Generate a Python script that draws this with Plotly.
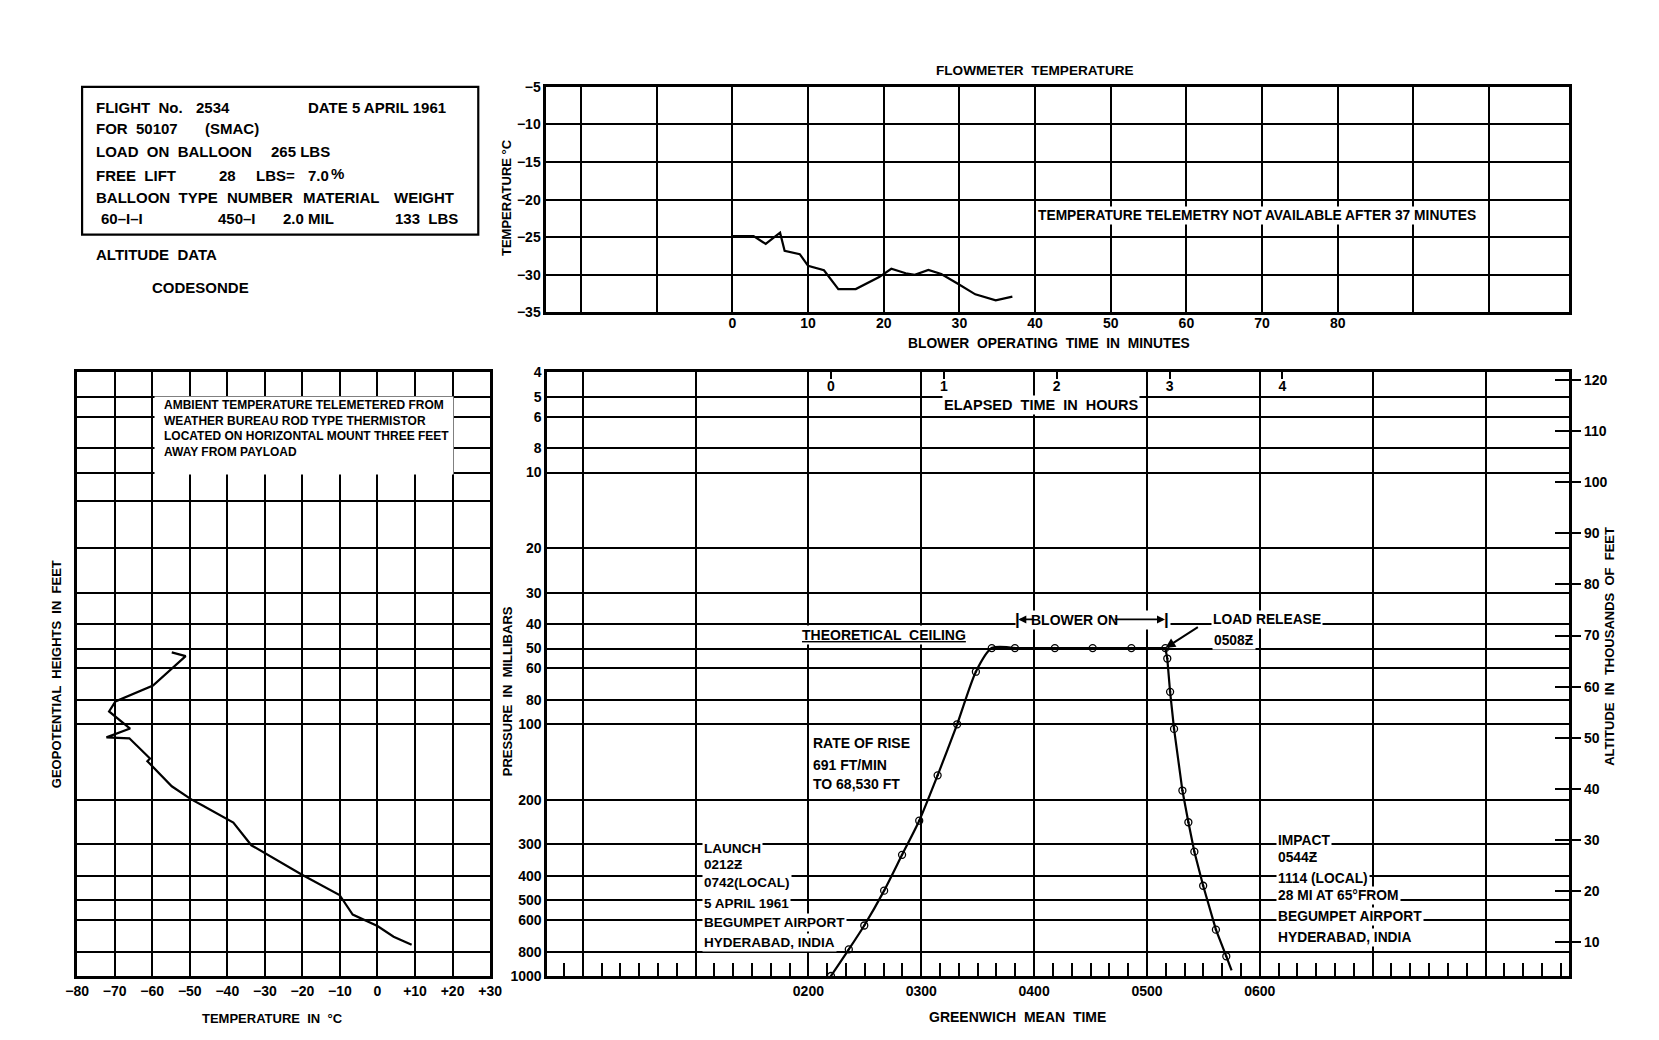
import math
import plotly.graph_objects as go

W, H = 1659, 1040

# ---------------- data ----------------
# Flowmeter temperature vs blower operating time
flow_minutes = [0, 2.8, 4.4, 6.3, 6.9, 8.9, 10.0, 12.1, 14.0, 16.3, 19.4, 21.0,
                22.9, 24.1, 25.9, 27.6, 29.8, 32.1, 34.8, 37.0]
flow_temp = [-24.85, -24.85, -25.9, -24.4, -26.8, -27.25, -28.8, -29.4, -31.9,
             -31.9, -30.3, -29.2, -29.8, -30.0, -29.35, -29.9, -31.2, -32.6,
             -33.4, -32.9]
flow_grid = list(range(-20, 101, 10))
flow_labels = [str(v) if 0 <= v <= 80 else '' for v in flow_grid]
flow_temp_ticks = [-35, -30, -25, -20, -15, -10, -5]

# Ambient temperature profile (temperature vs pressure level)
profile_temp = [-54.8, -51.1, -59.8, -69.8, -71.5, -65.9, -72.2, -66.1, -60.6,
                -61.3, -54.8, -49.6, -46.7, -38.4, -33.6, -20.1, -10.1, -6.6,
                0.0, 4.3, 9.1]
profile_pressure = [51.8, 53.6, 70.1, 81.1, 88.9, 104, 112.7, 113.7, 136.8,
                    140.1, 176.3, 198.8, 209.7, 245.6, 302.5, 396, 476.6, 570,
                    633, 698, 750.6]
profile_temp_ticks = list(range(-80, 31, 10))
profile_temp_labels = ['\u221280', '\u221270', '\u221260', '\u221250', '\u221240',
                       '\u221230', '\u221220', '\u221210', '0', '+10', '+20', '+30']
profile_grid_pressure = [4, 5, 6, 8, 10, 13, 20, 30, 40, 50, 60, 80, 100, 200,
                         300, 400, 500, 600, 800, 1000]

# Flight profile (GMT hours vs pressure)
pressure_ticks = [4, 5, 6, 8, 10, 20, 30, 40, 50, 60, 80, 100, 200, 300, 400,
                  500, 600, 800, 1000]
gmt_hours = list(range(0, 9))
gmt_labels = ['', '', '0200', '0300', '0400', '0500', '0600', '', '']
launch_gmt = 2.2
elapsed_ticks = [0, 1, 2, 3, 4]
altitude_ticks = list(range(10, 121, 10))
blower_on_gmt = 3.85
blower_off_gmt = 5.17
blower_label_p = 38.3

ascent_gmt = [2.2, 2.358, 2.495, 2.671, 2.830, 2.982, 3.145, 3.318, 3.484, 3.625]
ascent_p = [1000, 784, 630, 458, 330, 241.6, 159.5, 100, 61.8, 49.8]
float_gmt = [3.625, 3.830, 4.184, 4.519, 4.862, 5.163]
float_p = [49.8, 49.8, 49.8, 49.8, 49.8, 49.8]
descent_gmt = [5.163, 5.180, 5.205, 5.240, 5.314, 5.367, 5.420, 5.498, 5.611, 5.703]
descent_p = [49.8, 54.8, 74.3, 104.3, 183.3, 245, 320.6, 438, 654.6, 835]
descent_end_gmt = 5.75
descent_end_p = 950

# ---------------- helpers ----------------
def px(x):
    return x / W


def py(y):
    return 1 - y / H


FONT = 'Liberation Sans, Arial, sans-serif'
BLACK = 'black'

fig = go.Figure()

fig.add_trace(go.Scatter(x=flow_minutes, y=flow_temp, mode='lines',
                         line=dict(color=BLACK, width=2.2),
                         xaxis='x', yaxis='y', showlegend=False))

fig.add_trace(go.Scatter(x=profile_temp, y=profile_pressure, mode='lines',
                         line=dict(color=BLACK, width=2.2),
                         xaxis='x2', yaxis='y2', showlegend=False))

fig.add_trace(go.Scatter(x=ascent_gmt + [float_gmt[1]], y=ascent_p + [float_p[1]],
                         mode='lines', line=dict(color=BLACK, width=2.2,
                                                 shape='spline', smoothing=0.7),
                         xaxis='x3', yaxis='y3', showlegend=False))
fig.add_trace(go.Scatter(x=float_gmt[1:] + descent_gmt[1:] + [descent_end_gmt],
                         y=float_p[1:] + descent_p[1:] + [descent_end_p],
                         mode='lines', line=dict(color=BLACK, width=2.2),
                         xaxis='x3', yaxis='y3', showlegend=False))
fig.add_trace(go.Scatter(x=ascent_gmt + float_gmt[1:] + descent_gmt[1:],
                         y=ascent_p + float_p[1:] + descent_p[1:],
                         mode='markers',
                         marker=dict(symbol='circle-open-dot', size=7,
                                     color=BLACK, line=dict(width=1.3, color=BLACK)),
                         xaxis='x3', yaxis='y3', showlegend=False))

# invisible anchor traces so the overlay axes (altitude, elapsed time) get drawn
for yax in ('y4', 'y5'):
    fig.add_trace(go.Scatter(x=[launch_gmt] * len(altitude_ticks), y=altitude_ticks,
                             mode='markers', marker=dict(opacity=0),
                             hoverinfo='skip', xaxis='x3', yaxis=yax,
                             showlegend=False))
fig.add_trace(go.Scatter(x=elapsed_ticks, y=[pressure_ticks[-1]] * len(elapsed_ticks),
                         mode='markers', marker=dict(opacity=0), hoverinfo='skip',
                         xaxis='x4', yaxis='y3', showlegend=False))

frame = dict(showgrid=True, gridcolor=BLACK, gridwidth=1.6, zeroline=False,
             showline=True, linecolor=BLACK, linewidth=2.6, mirror=True,
             ticks='', tickfont=dict(size=14, color=BLACK))

log_lo, log_hi = math.log10(1000), math.log10(4)

fig.update_layout(
    width=W, height=H, margin=dict(l=0, r=0, t=0, b=0),
    paper_bgcolor='white', plot_bgcolor='white',
    font=dict(family=FONT, size=13, color=BLACK, weight='bold'),
    showlegend=False,
    xaxis=dict(frame, domain=[px(534), px(1572)], anchor='y',
               range=[-24.6, 110.6], tickmode='array', tickvals=flow_grid,
               ticktext=flow_labels, ticklabelstandoff=-4),
    yaxis=dict(frame, domain=[py(301), py(72)], anchor='x',
               range=[-35, -5], tickmode='array', tickvals=flow_temp_ticks),
    xaxis2=dict(frame, domain=[px(58), px(477)], anchor='y2',
                range=[-80, 30], tickmode='array', tickvals=profile_temp_ticks,
                ticktext=profile_temp_labels),
    yaxis2=dict(frame, domain=[py(975), py(362)], anchor='x2', type='log',
                range=[log_lo, log_hi], tickmode='array',
                tickvals=profile_grid_pressure, showticklabels=False),
    xaxis3=dict(frame, domain=[px(535), px(1572)], anchor='y3',
                range=[-0.314, 8.742], tickmode='array', tickvals=gmt_hours,
                ticktext=gmt_labels,
                minor=dict(ticks='inside', ticklen=13, tickwidth=1.5,
                           tickcolor=BLACK, dtick=1 / 6, tick0=0, showgrid=False)),
    yaxis3=dict(frame, domain=[py(975), py(362)], anchor='x3', type='log',
                range=[log_lo, log_hi], tickmode='array', tickvals=pressure_ticks,
                ticktext=[str(v) for v in pressure_ticks]),
    yaxis4=dict(overlaying='y3', anchor='x3', side='right', range=[3.37, 121.5],
                tickmode='array', tickvals=altitude_ticks, ticks='outside',
                ticklen=11, tickwidth=1.6, tickcolor=BLACK, showgrid=False,
                showline=False, zeroline=False, tickfont=dict(size=14)),
    yaxis5=dict(overlaying='y3', anchor='x3', side='right', range=[3.37, 121.5],
                tickmode='array', tickvals=altitude_ticks, ticks='inside',
                ticklen=14, tickwidth=1.6, tickcolor=BLACK, showgrid=False,
                showline=False, zeroline=False, showticklabels=False),
    xaxis4=dict(overlaying='x3', anchor='y3', side='top',
                range=[-0.314 - launch_gmt, 8.742 - launch_gmt],
                tickmode='array', tickvals=elapsed_ticks, ticks='inside',
                ticklen=7, tickwidth=1.6, tickcolor=BLACK,
                ticklabelstandoff=-22, showgrid=False, showline=False,
                zeroline=False, tickfont=dict(size=14)),
)

ann = []


def txt(text, x, y, size=13, xanchor='left', angle=0, bg=None, **kw):
    d = dict(text=text, x=px(x), y=py(y), xref='paper', yref='paper',
             xanchor=xanchor, yanchor='middle', showarrow=False,
             font=dict(size=size, family=FONT, color=BLACK, weight='bold'),
             textangle=angle)
    if bg:
        d['bgcolor'] = bg
        d['borderpad'] = 1
    d.update(kw)
    ann.append(d)


# info box
B = 15
txt('FLIGHT  No.', 75, 93, B)
txt('2534', 177, 93, B)
txt('DATE 5 APRIL 1961', 290, 93, B)
txt('FOR', 75, 114, B)
txt('50107', 116, 114, B)
txt('(SMAC)', 186, 114, B)
txt('LOAD  ON  BALLOON', 75, 138, B)
txt('265 LBS', 253, 138, B)
txt('FREE  LIFT', 75, 162, B)
txt('28', 200, 162, B)
txt('LBS=', 237, 162, B)
txt('7.0', 290, 162, B)
txt('%', 314, 160, B)
txt('BALLOON  TYPE', 75, 184, B)
txt('NUMBER', 208, 184, B)
txt('MATERIAL', 285, 184, B)
txt('WEIGHT', 377, 184, B)
txt('60\u2013I\u2013I', 80, 206, B)
txt('450\u2013I', 199, 206, B)
txt('2.0 MIL', 265, 206, B)
txt('133  LBS', 378, 206, B)
txt('ALTITUDE  DATA', 75, 242, B)
txt('CODESONDE', 132, 276, B)

# top chart
txt('FLOWMETER  TEMPERATURE', 1030, 55, 13.6, xanchor='center')
txt('TEMPERATURE TELEMETRY NOT AVAILABLE AFTER 37 MINUTES', 1031, 203, 13.8,
    bg='white')
txt('BLOWER  OPERATING  TIME  IN  MINUTES', 1044, 333, 13.8, xanchor='center')
txt('TEMPERATURE \u00b0C', 493, 184, 13, xanchor='center', angle=-90)

# left chart note (white panel + text)
ann.append(dict(text=' ', x=px(136), y=py(386), xref='paper', yref='paper',
                xanchor='left', yanchor='top', showarrow=False,
                width=296, height=75, bgcolor='white',
                font=dict(size=12, family=FONT, color=BLACK)))
ann.append(dict(text='AMBIENT TEMPERATURE TELEMETERED FROM<br>'
                     'WEATHER BUREAU ROD TYPE THERMISTOR<br>'
                     'LOCATED ON HORIZONTAL MOUNT THREE FEET<br>'
                     'AWAY FROM PAYLOAD',
                x=px(144), y=py(386), xref='paper', yref='paper',
                xanchor='left', yanchor='top', showarrow=False, align='left',
                font=dict(size=12, family=FONT, color=BLACK, weight='bold')))
txt('GEOPOTENTIAL  HEIGHTS  IN  FEET', 37, 668, 13, xanchor='center', angle=-90)
txt('TEMPERATURE  IN  \u00b0C', 256, 1018, 13, xanchor='center')

# main chart
txt('PRESSURE  IN  MILLIBARS', 495, 686, 13, xanchor='center', angle=-90)
txt('ALTITUDE  IN  THOUSANDS  OF  FEET', 1612, 640, 13, xanchor='center', angle=-90)
txt('GREENWICH  MEAN  TIME', 1012, 1017, 14, xanchor='center')
txt('ELAPSED  TIME  IN  HOURS', 1036, 395, 14.5, xanchor='center', bg='white')
ann.append(dict(text='THEORETICAL  CEILING', x=px(791), y=py(629), xref='paper',
                yref='paper', xanchor='left', yanchor='middle', showarrow=False,
                bgcolor='white',
                font=dict(size=14, family=FONT, color=BLACK, weight='bold',
                          lineposition='under')))

# blower-on bracket
ann.append(dict(text=' ', x=px(1010), y=py(613), xref='paper', yref='paper',
                xanchor='left', yanchor='middle', showarrow=False,
                width=152, height=16, bgcolor='white',
                font=dict(size=14, family=FONT, color=BLACK)))
ann.append(dict(text='BLOWER ON', x=px(1024), y=py(613), xref='paper',
                yref='paper', xanchor='left', yanchor='middle', showarrow=False,
                font=dict(size=14, family=FONT, color=BLACK, weight='bold')))
ann.append(dict(text='', x=blower_on_gmt + 0.01, y=math.log10(blower_label_p),
                xref='x3', yref='y3', ax=blower_on_gmt + 0.16,
                ay=math.log10(blower_label_p), axref='x3', ayref='y3',
                showarrow=True, arrowhead=2, arrowsize=1, arrowwidth=1.6,
                arrowcolor=BLACK))
ann.append(dict(text='', x=blower_off_gmt - 0.01, y=math.log10(blower_label_p),
                xref='x3', yref='y3', ax=blower_on_gmt + 0.85,
                ay=math.log10(blower_label_p), axref='x3', ayref='y3',
                showarrow=True, arrowhead=2, arrowsize=1, arrowwidth=1.6,
                arrowcolor=BLACK))
for gx in (blower_on_gmt, blower_off_gmt):
    ann.append(dict(text='|', x=gx, y=math.log10(blower_label_p), xref='x3',
                    yref='y3', xanchor='center', yanchor='middle', showarrow=False,
                    font=dict(size=17, family=FONT, color=BLACK, weight='bold')))

txt('LOAD RELEASE', 1208, 613, 13.8, bg='white')
txt('0508\u01b5', 1210, 634, 13.8, bg='white')
ann.append(dict(text='', x=float_gmt[-1], y=math.log10(float_p[-1]),
                xref='x3', yref='y3', showarrow=True, arrowhead=2,
                arrowsize=1, arrowwidth=2, arrowcolor=BLACK, ax=34, ay=-22))
txt('RATE OF RISE', 803, 738, 14)
txt('691 FT/MIN', 803, 761, 14)
txt('TO 68,530 FT', 803, 780, 14)

launch_lines = ['LAUNCH', '0212\u01b5', '0742(LOCAL)', '5 APRIL 1961',
                'BEGUMPET AIRPORT', 'HYDERABAD, INDIA']
launch_y = [846, 862, 880, 901, 921, 941]
for t, yy in zip(launch_lines, launch_y):
    txt(t, 692, yy, 13.5, bg='white')

impact_lines = ['IMPACT', '0544\u01b5', '1114 (LOCAL)', '28 MI AT 65\u00b0FROM',
                'BEGUMPET AIRPORT', 'HYDERABAD, INDIA']
impact_y = [837, 855, 876, 893, 915, 936]
for t, yy in zip(impact_lines, impact_y):
    txt(t, 1274, yy, 13.8, bg='white')

fig.update_layout(annotations=ann)

fig.add_shape(type='rect', xref='paper', yref='paper', x0=px(63), x1=px(465),
              y0=py(222), y1=py(72), line=dict(color=BLACK, width=2.2))

fig.write_html('out.html')
